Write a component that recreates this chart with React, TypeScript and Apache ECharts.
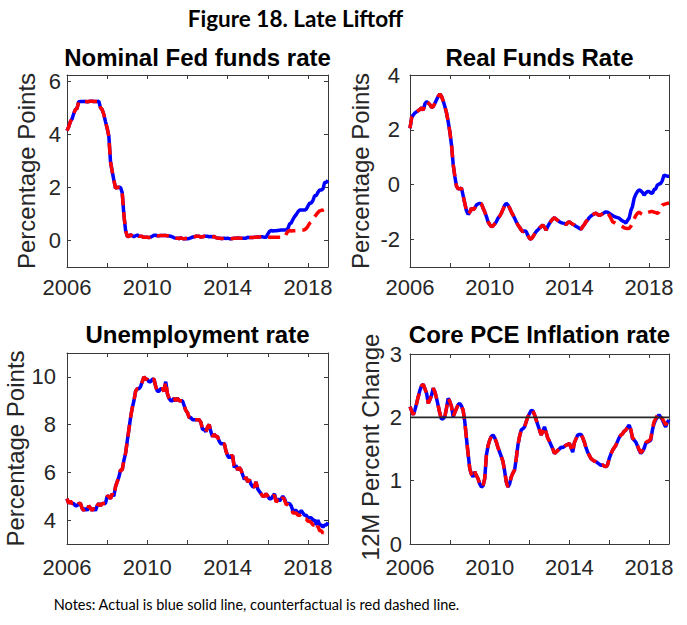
import React, { useEffect, useRef } from "react";
import * as echarts from "echarts";

// ---------- DATA (monthly, Jan 2006 .. Jan 2019) ----------
const startYear = 2006;
const xTicks = [2006, 2008, 2010, 2012, 2014, 2016, 2018];
const xLabels = [2006, 2010, 2014, 2018];

const ffrActual = [
  4.15, 4.29, 4.49, 4.59, 4.79, 4.94, 4.99, 5.24, 5.25, 5.25, 5.25, 5.25,
  5.24, 5.25, 5.26, 5.26, 5.25, 5.25, 5.25, 5.26, 5.02, 4.94, 4.76, 4.49,
  4.24, 3.94, 2.98, 2.61, 2.28, 1.98, 2.0, 2.01, 2.0, 1.81, 0.97, 0.39,
  0.16, 0.15, 0.22, 0.18, 0.15, 0.18, 0.21, 0.16, 0.16, 0.15, 0.12, 0.12,
  0.12, 0.11, 0.13, 0.16, 0.2, 0.2, 0.18, 0.18, 0.19, 0.19, 0.19, 0.19,
  0.18, 0.17, 0.16, 0.14, 0.1, 0.09, 0.09, 0.07, 0.1, 0.08, 0.07, 0.08,
  0.07, 0.08, 0.1, 0.13, 0.14, 0.16, 0.16, 0.16, 0.13, 0.14, 0.16, 0.16,
  0.16, 0.14, 0.15, 0.14, 0.15, 0.11, 0.09, 0.09, 0.08, 0.08, 0.09, 0.08,
  0.09, 0.07, 0.07, 0.08, 0.09, 0.09, 0.1, 0.09, 0.09, 0.09, 0.09, 0.09,
  0.12, 0.11, 0.11, 0.11, 0.12, 0.12, 0.13, 0.13, 0.14, 0.14, 0.12, 0.12,
  0.24, 0.34, 0.38, 0.36, 0.37, 0.37, 0.38, 0.39, 0.4, 0.4, 0.4, 0.41,
  0.45, 0.62, 0.66, 0.79, 0.9, 0.98, 1.08, 1.15, 1.15, 1.15, 1.15, 1.18,
  1.3, 1.41, 1.42, 1.51, 1.69, 1.7, 1.82, 1.91, 1.91, 1.95, 2.19, 2.2,
  2.27,
];
const ffrCounterfactual = [
  4.15, 4.29, 4.49, 4.59, 4.79, 4.94, 4.99, 5.24, 5.25, 5.25, 5.25, 5.25,
  5.24, 5.25, 5.26, 5.26, 5.25, 5.25, 5.25, 5.26, 5.02, 4.94, 4.76, 4.49,
  4.24, 3.94, 2.98, 2.61, 2.28, 1.98, 2.0, 2.01, 2.0, 1.81, 0.97, 0.39,
  0.16, 0.15, 0.22, 0.18, 0.15, 0.18, 0.21, 0.16, 0.16, 0.15, 0.12, 0.12,
  0.12, 0.11, 0.13, 0.16, 0.2, 0.2, 0.18, 0.18, 0.19, 0.19, 0.19, 0.19,
  0.18, 0.17, 0.16, 0.14, 0.1, 0.09, 0.09, 0.07, 0.1, 0.08, 0.07, 0.08,
  0.07, 0.08, 0.1, 0.13, 0.14, 0.16, 0.16, 0.16, 0.13, 0.14, 0.16, 0.16,
  0.16, 0.14, 0.15, 0.14, 0.15, 0.11, 0.09, 0.09, 0.08, 0.08, 0.09, 0.08,
  0.09, 0.07, 0.07, 0.08, 0.09, 0.09, 0.1, 0.09, 0.09, 0.09, 0.09, 0.09,
  0.12, 0.11, 0.11, 0.11, 0.12, 0.12, 0.13, 0.13, 0.14, 0.14, 0.12, 0.12,
  0.12, 0.12, 0.12, 0.12, 0.12, 0.12, 0.12, 0.12, 0.12, 0.12, 0.12, 0.24,
  0.34, 0.38, 0.36, 0.37, 0.37, 0.38, 0.39, 0.4, 0.4, 0.4, 0.41, 0.45,
  0.54, 0.65, 0.7, 0.79, 0.9, 0.98, 1.06, 1.12, 1.14, 1.15, 1.18, 1.2,
  1.2,
];

const realActual = [
  2.06, 2.45, 2.55, 2.62, 2.66, 2.7, 2.75, 2.8, 2.72, 2.95, 3.03, 2.98,
  2.92, 2.82, 2.85, 2.97, 3.1, 3.22, 3.31, 3.22, 3.05, 2.85, 2.62, 2.3,
  1.93, 1.45, 0.75, 0.3, -0.05, -0.15, -0.15, -0.12, -0.4, -0.68, -0.95, -1.08,
  -1.0, -0.86, -0.92, -0.85, -0.74, -0.7, -0.68, -0.7, -0.85, -0.99, -1.15, -1.35,
  -1.45, -1.53, -1.5, -1.43, -1.35, -1.22, -1.15, -1.04, -0.9, -0.75, -0.68, -0.74,
  -0.85, -0.99, -1.1, -1.22, -1.35, -1.47, -1.55, -1.65, -1.72, -1.68, -1.71, -1.85,
  -1.96, -1.98, -1.9, -1.8, -1.71, -1.65, -1.58, -1.52, -1.47, -1.55, -1.65, -1.52,
  -1.41, -1.32, -1.25, -1.2, -1.26, -1.3, -1.35, -1.38, -1.4, -1.41, -1.45, -1.38,
  -1.35, -1.4, -1.44, -1.47, -1.52, -1.55, -1.59, -1.62, -1.53, -1.45, -1.35, -1.28,
  -1.2, -1.14, -1.1, -1.06, -1.04, -1.08, -1.12, -1.1, -1.06, -1.02, -0.99, -1.0,
  -1.04, -1.08, -1.12, -1.16, -1.18, -1.2, -1.22, -1.28, -1.32, -1.35, -1.4, -1.3,
  -1.22, -0.95, -0.8, -0.5, -0.35, -0.25, -0.19, -0.22, -0.28, -0.38, -0.3, -0.25,
  -0.25, -0.3, -0.31, -0.18, -0.15, -0.01, 0.02, 0.05, 0.15, 0.35, 0.33, 0.31,
  0.31,
];
const realCounterfactual = [
  2.06, 2.45, 2.55, 2.62, 2.66, 2.7, 2.75, 2.8, 2.72, 2.95, 3.03, 2.98,
  2.92, 2.82, 2.85, 2.97, 3.1, 3.22, 3.31, 3.22, 3.05, 2.85, 2.62, 2.3,
  1.93, 1.45, 0.75, 0.3, -0.05, -0.15, -0.15, -0.12, -0.4, -0.68, -0.95, -1.08,
  -1.0, -0.86, -0.92, -0.85, -0.74, -0.7, -0.68, -0.7, -0.85, -0.99, -1.15, -1.35,
  -1.45, -1.53, -1.5, -1.43, -1.35, -1.22, -1.15, -1.04, -0.9, -0.75, -0.68, -0.74,
  -0.85, -0.99, -1.1, -1.22, -1.35, -1.47, -1.55, -1.65, -1.72, -1.68, -1.71, -1.85,
  -1.96, -1.98, -1.9, -1.8, -1.71, -1.65, -1.58, -1.52, -1.47, -1.55, -1.65, -1.52,
  -1.41, -1.32, -1.25, -1.2, -1.26, -1.3, -1.35, -1.38, -1.4, -1.41, -1.45, -1.38,
  -1.35, -1.4, -1.44, -1.47, -1.52, -1.55, -1.59, -1.62, -1.53, -1.45, -1.35, -1.28,
  -1.2, -1.14, -1.1, -1.06, -1.04, -1.08, -1.12, -1.1, -1.06, -1.02, -0.99, -1.0,
  -1.12, -1.22, -1.35, -1.38, -1.42, -1.45, -1.47, -1.5, -1.53, -1.57, -1.59, -1.6,
  -1.59, -1.52, -1.41, -1.25, -1.12, -1.04, -1.0, -1.05, -1.08, -1.1, -1.06, -1.02,
  -1.0, -0.98, -0.98, -1.0, -1.02, -1.04, -1.0, -0.85, -0.74, -0.72, -0.7, -0.68,
  -0.68,
];

const unempActual = [
  4.9, 4.7, 4.8, 4.7, 4.7, 4.6, 4.6, 4.7, 4.7, 4.5, 4.4, 4.5,
  4.4, 4.6, 4.5, 4.4, 4.5, 4.4, 4.6, 4.7, 4.6, 4.7, 4.7, 4.7,
  5.0, 5.0, 4.9, 5.1, 5.0, 5.4, 5.6, 5.8, 6.1, 6.1, 6.5, 6.8,
  7.3, 7.8, 8.3, 8.7, 9.0, 9.4, 9.5, 9.5, 9.6, 9.8, 10.0, 9.9,
  9.9, 9.8, 9.8, 9.9, 9.9, 9.6, 9.4, 9.4, 9.5, 9.5, 9.4, 9.8,
  9.3, 9.1, 9.0, 9.0, 9.1, 9.0, 9.1, 9.0, 9.0, 9.0, 8.8, 8.6,
  8.5, 8.3, 8.3, 8.2, 8.2, 8.2, 8.2, 8.2, 8.1, 7.8, 7.8, 7.7,
  7.9, 8.0, 7.7, 7.5, 7.6, 7.5, 7.5, 7.3, 7.2, 7.2, 7.2, 6.9,
  6.7, 6.6, 6.7, 6.7, 6.2, 6.3, 6.1, 6.2, 6.1, 5.9, 5.7, 5.8,
  5.6, 5.7, 5.5, 5.4, 5.4, 5.6, 5.3, 5.2, 5.1, 5.0, 5.0, 5.1,
  5.0, 4.9, 4.9, 5.0, 5.1, 4.8, 4.9, 4.8, 4.9, 5.0, 4.9, 4.7,
  4.7, 4.7, 4.6, 4.4, 4.4, 4.4, 4.3, 4.3, 4.4, 4.3, 4.2, 4.2,
  4.1, 4.1, 4.1, 4.0, 4.0, 3.8, 4.0, 3.8, 3.8, 3.7, 3.8, 3.8,
  3.9,
];
const unempCounterfactual = [
  4.9, 4.7, 4.8, 4.7, 4.7, 4.6, 4.6, 4.7, 4.7, 4.5, 4.4, 4.5,
  4.4, 4.6, 4.5, 4.4, 4.5, 4.4, 4.6, 4.7, 4.6, 4.7, 4.7, 4.7,
  5.0, 5.0, 4.9, 5.1, 5.0, 5.4, 5.6, 5.8, 6.1, 6.1, 6.5, 6.8,
  7.3, 7.8, 8.3, 8.7, 9.0, 9.4, 9.5, 9.5, 9.6, 9.8, 10.0, 9.9,
  9.9, 9.8, 9.8, 9.9, 9.9, 9.6, 9.4, 9.4, 9.5, 9.5, 9.4, 9.8,
  9.3, 9.1, 9.0, 9.0, 9.1, 9.0, 9.1, 9.0, 9.0, 9.0, 8.8, 8.6,
  8.5, 8.3, 8.3, 8.2, 8.2, 8.2, 8.2, 8.2, 8.1, 7.8, 7.8, 7.7,
  7.9, 8.0, 7.7, 7.5, 7.6, 7.5, 7.5, 7.3, 7.2, 7.2, 7.2, 6.9,
  6.7, 6.6, 6.7, 6.7, 6.2, 6.3, 6.1, 6.2, 6.1, 5.9, 5.7, 5.8,
  5.6, 5.7, 5.5, 5.4, 5.4, 5.6, 5.3, 5.2, 5.1, 5.0, 5.0, 5.1,
  5.0, 4.9, 4.9, 5.0, 5.05, 4.75, 4.85, 4.75, 4.85, 4.95, 4.85, 4.65,
  4.65, 4.6, 4.5, 4.3, 4.3, 4.3, 4.2, 4.2, 4.25, 4.15, 4.05, 4.05,
  3.95, 3.95, 3.9, 3.8, 3.8, 3.6, 3.75, 3.55, 3.55, 3.45, 3.55, 3.55,
  3.6,
];

const pceActual = [
  2.17, 2.1, 2.04, 2.12, 2.22, 2.33, 2.43, 2.5, 2.52, 2.45, 2.38, 2.22,
  2.28, 2.35, 2.46, 2.4, 2.3, 2.18, 2.06, 1.97, 1.98, 2.01, 2.15, 2.3,
  2.25, 2.17, 2.01, 2.08, 2.14, 2.2, 2.22, 2.18, 2.11, 1.93, 1.67, 1.42,
  1.19, 1.1, 1.06, 1.14, 1.08, 1.03, 0.95, 0.9, 0.92, 1.03, 1.4, 1.55,
  1.64, 1.7, 1.72, 1.68, 1.61, 1.52, 1.45, 1.38, 1.3, 1.15, 0.98, 0.9,
  0.95, 1.06, 1.12, 1.17, 1.35, 1.56, 1.7, 1.8, 1.82, 1.85, 1.93, 2.01,
  2.06, 2.11, 2.1, 2.04, 1.96, 1.88, 1.8, 1.72, 1.78, 1.85, 1.76, 1.67,
  1.62, 1.56, 1.5, 1.43, 1.45, 1.48, 1.5, 1.53, 1.52, 1.54, 1.56, 1.57,
  1.59, 1.52, 1.45, 1.6, 1.66, 1.72, 1.73, 1.73, 1.68, 1.61, 1.52, 1.45,
  1.4, 1.35, 1.33, 1.31, 1.3, 1.28, 1.26, 1.24, 1.25, 1.23, 1.22, 1.25,
  1.35, 1.42, 1.48, 1.52, 1.56, 1.62, 1.68, 1.72, 1.74, 1.78, 1.8, 1.84,
  1.88, 1.8, 1.67, 1.64, 1.61, 1.55, 1.48, 1.43, 1.46, 1.51, 1.59, 1.61,
  1.62, 1.64, 1.8, 1.9, 1.96, 2.0, 2.04, 2.0, 1.96, 1.9, 1.85, 1.92,
  1.96,
];
const pceCounterfactual = [
  2.17, 2.1, 2.04, 2.12, 2.22, 2.33, 2.43, 2.5, 2.52, 2.45, 2.38, 2.22,
  2.28, 2.35, 2.46, 2.4, 2.3, 2.18, 2.06, 1.97, 1.98, 2.01, 2.15, 2.3,
  2.25, 2.17, 2.01, 2.08, 2.14, 2.2, 2.22, 2.18, 2.11, 1.93, 1.67, 1.42,
  1.19, 1.1, 1.06, 1.14, 1.08, 1.03, 0.95, 0.9, 0.92, 1.03, 1.4, 1.55,
  1.64, 1.7, 1.72, 1.68, 1.61, 1.52, 1.45, 1.38, 1.3, 1.15, 0.98, 0.9,
  0.95, 1.06, 1.12, 1.17, 1.35, 1.56, 1.7, 1.8, 1.82, 1.85, 1.93, 2.01,
  2.06, 2.11, 2.1, 2.04, 1.96, 1.88, 1.8, 1.72, 1.78, 1.85, 1.76, 1.67,
  1.62, 1.56, 1.5, 1.43, 1.45, 1.48, 1.5, 1.53, 1.52, 1.54, 1.56, 1.57,
  1.59, 1.52, 1.45, 1.6, 1.66, 1.72, 1.73, 1.73, 1.68, 1.61, 1.52, 1.45,
  1.4, 1.35, 1.33, 1.31, 1.3, 1.28, 1.26, 1.24, 1.25, 1.23, 1.22, 1.25,
  1.35, 1.42, 1.48, 1.52, 1.56, 1.62, 1.68, 1.72, 1.74, 1.78, 1.8, 1.84,
  1.88, 1.81, 1.68, 1.65, 1.62, 1.56, 1.49, 1.44, 1.47, 1.52, 1.6, 1.62,
  1.63, 1.66, 1.82, 1.93, 1.98, 2.03, 2.06, 2.02, 1.98, 1.93, 1.88, 1.94,
  1.97,
];

const inflationTarget = 2;

const panelTitles = [
  "Nominal Fed funds rate",
  "Real Funds Rate",
  "Unemployment rate",
  "Core PCE Inflation rate",
];
const yNames = ["Percentage Points", "Percentage Points", "Percentage Points", "12M Percent Change"];
const yRanges = [
  { min: -1, max: 6.25, ticks: [0, 2, 4, 6] },
  { min: -3, max: 4, ticks: [-2, 0, 2, 4] },
  { min: 3, max: 11, ticks: [4, 6, 8, 10] },
  { min: 0, max: 3, ticks: [0, 1, 2, 3] },
];

// ---------- LAYOUT ----------
const grids = [
  { left: 67, top: 75, width: 261, height: 192 },
  { left: 410, top: 75, width: 259, height: 192 },
  { left: 67, top: 353, width: 261, height: 191 },
  { left: 410, top: 354, width: 259, height: 190 },
];
const yLabelMargins = [6, 10, 11, 8];
const xLabelMargins = [11, 11, 14, 14];
const yNamePos = [
  [26.5, 171],
  [360, 171],
  [15.5, 448.5],
  [370, 447],
];
const titleY = [57.5, 57.5, 334, 334];

const FONT = "'Liberation Sans', Arial, Helvetica, sans-serif";
const BLUE = "#0000ff";
const RED = "#ff0000";
const AXIS = "#3a3a3a";

export default function App() {
  const ref = useRef<HTMLDivElement>(null);

  useEffect(() => {
    if (!ref.current) return;
    const chart = echarts.init(ref.current, null, { renderer: "svg" });
    const months = ffrActual.map((_, i) => startYear + i / 12);
    const pairs = (arr: number[]) => arr.map((v, i) => [months[i], v]);

    const xAxis: any[] = [];
    const yAxis: any[] = [];
    const lineStyle = { color: AXIS, width: 1 };
    grids.forEach((_, gi) => {
      xAxis.push({
        type: "value", gridIndex: gi, min: 2006, max: 2019, interval: 2, position: "bottom",
        axisLine: { show: true, onZero: false, lineStyle },
        axisTick: { show: true, inside: true, length: 4, lineStyle, customValues: xTicks },
        axisLabel: {
          customValues: xLabels, formatter: (v: number) => String(v),
          color: "#262626", fontSize: 22, lineHeight: 18, fontFamily: FONT, margin: xLabelMargins[gi],
        },
        splitLine: { show: false },
      });
      xAxis.push({
        type: "value", gridIndex: gi, min: 2006, max: 2019, interval: 2, position: "top",
        axisLine: { show: true, onZero: false, lineStyle },
        axisTick: { show: true, inside: true, length: 4, lineStyle, customValues: xTicks },
        axisLabel: { show: false },
        splitLine: { show: false },
      });
      const r = yRanges[gi];
      yAxis.push({
        type: "value", gridIndex: gi, min: r.min, max: r.max, position: "left",
        axisLine: { show: true, onZero: false, lineStyle },
        axisTick: { show: true, inside: true, length: 4, lineStyle, customValues: r.ticks },
        axisLabel: {
          customValues: r.ticks, formatter: (v: number) => String(v),
          color: "#262626", fontSize: 22, lineHeight: 16, fontFamily: FONT, margin: yLabelMargins[gi],
        },
        splitLine: { show: false },
      });
      yAxis.push({
        type: "value", gridIndex: gi, min: r.min, max: r.max, position: "right",
        axisLine: { show: true, onZero: false, lineStyle },
        axisTick: { show: true, inside: true, length: 4, lineStyle, customValues: r.ticks },
        axisLabel: { show: false },
        splitLine: { show: false },
      });
    });

    const actual = [ffrActual, realActual, unempActual, pceActual];
    const counter = [ffrCounterfactual, realCounterfactual, unempCounterfactual, pceCounterfactual];
    const series: any[] = [];
    grids.forEach((_, gi) => {
      series.push({
        type: "line", xAxisIndex: gi * 2, yAxisIndex: gi * 2, data: pairs(actual[gi]),
        showSymbol: false, symbol: "none",
        lineStyle: { color: BLUE, width: 3.5, type: "solid" }, z: 2,
      });
      series.push({
        type: "line", xAxisIndex: gi * 2, yAxisIndex: gi * 2, data: pairs(counter[gi]),
        showSymbol: false, symbol: "none",
        lineStyle: { color: RED, width: 3.5, type: [12, 7] }, z: 3,
      });
    });
    series.push({
      type: "line", xAxisIndex: 6, yAxisIndex: 6,
      data: [[2006, inflationTarget], [2019, inflationTarget]],
      showSymbol: false, symbol: "none",
      lineStyle: { color: "#262626", width: 1.6 }, z: 4,
    });

    const graphic: any[] = [
      {
        type: "text", x: 295.5, y: 18.5,
        style: {
          text: "Figure 18. Late Liftoff", font: "bold 22.5px Lato, 'Open Sans', sans-serif",
          fill: "#000", align: "center", verticalAlign: "middle",
          textAlign: "center", textVerticalAlign: "middle",
        },
      },
      {
        type: "text", x: 256.5, y: 604,
        style: {
          text: "Notes: Actual is blue solid line, counterfactual is red dashed line.",
          font: "14.5px Lato, 'Open Sans', sans-serif",
          fill: "#000", align: "center", verticalAlign: "middle",
          textAlign: "center", textVerticalAlign: "middle",
        },
      },
    ];
    grids.forEach((g, gi) => {
      graphic.push({
        type: "text", x: g.left + g.width / 2, y: titleY[gi],
        style: {
          text: panelTitles[gi], font: `bold 24px ${FONT}`, fill: "#000",
          align: "center", verticalAlign: "middle", textAlign: "center", textVerticalAlign: "middle",
        },
      });
      graphic.push({
        type: "text", x: yNamePos[gi][0], y: yNamePos[gi][1], rotation: Math.PI / 2,
        style: {
          text: yNames[gi], font: `24px ${FONT}`, fill: "#262626",
          align: "center", verticalAlign: "middle", textAlign: "center", textVerticalAlign: "middle",
        },
      });
    });

    chart.setOption({
      animation: false,
      backgroundColor: "#ffffff",
      grid: grids.map((g) => ({ ...g, containLabel: false })),
      xAxis,
      yAxis,
      series,
      graphic,
    });
    return () => chart.dispose();
  }, []);

  return (
    <div
      ref={ref}
      style={{ position: "fixed", left: 0, top: 0, width: 687, height: 625, background: "#fff" }}
    />
  );
}
